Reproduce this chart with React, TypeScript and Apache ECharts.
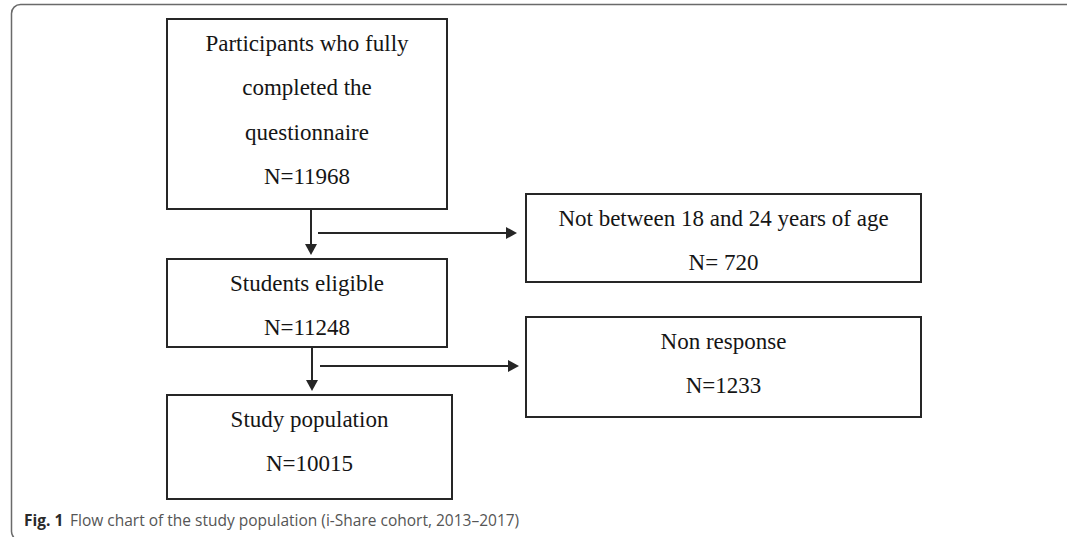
import React, { useEffect, useRef } from "react";
import * as echarts from "echarts";

// ---- data ----
const STAGE_LABELS = [
  ["Participants who fully", "completed the", "questionnaire"],
  ["Students eligible"],
  ["Study population"],
];
const STAGE_N = [11968, 11248, 10015];
const EXCLUSION_LABELS = [["Not between 18 and 24 years of age"], ["Non response"]];
const EXCLUSION_N = [720, 1233];
const EXCLUSION_N_SEP = ["N= ", "N="];
const CAPTION_BOLD = "Fig. 1";
const CAPTION_TEXT = "Flow chart of the study population (i-Share cohort, 2013–2017)";

// ---- layout ----
const STAGE_BOXES = [
  { x: 167, y: 19, w: 280, h: 190 },
  { x: 167, y: 259, w: 280, h: 88 },
  { x: 167, y: 395, w: 285, h: 104 },
];
const EXCL_BOXES = [
  { x: 526, y: 194, w: 395, h: 88 },
  { x: 526, y: 317, w: 395, h: 100 },
];
const DOWN_ARROW_X = [311, 312];
const SIDE_ARROW = [
  { y: 233, x0: 318, x1: 517 },
  { y: 366, x0: 320, x1: 519 },
];
const LINE_FIRST = 24;
const LINE_STEP = 44.6;
const STROKE = "#262626";
const TEXT_COLOR = "#151515";
const SERIF = "'Liberation Serif', 'Times New Roman', serif";

function boxElements(b: { x: number; y: number; w: number; h: number }, lines: string[]) {
  const els: any[] = [
    {
      type: "rect",
      shape: { x: b.x, y: b.y, width: b.w, height: b.h },
      style: { fill: "#fff", stroke: STROKE, lineWidth: 2 },
    },
  ];
  lines.forEach((t, i) => {
    els.push({
      type: "text",
      style: {
        text: t,
        x: b.x + b.w / 2,
        y: b.y + LINE_FIRST + i * LINE_STEP,
        textAlign: "center",
        textVerticalAlign: "middle",
        align: "center",
        verticalAlign: "middle",
        fill: TEXT_COLOR,
        font: "23px " + SERIF,
      },
    });
  });
  return els;
}

export default function App() {
  const ref = useRef<HTMLDivElement>(null);
  useEffect(() => {
    document.body.style.margin = "0";
    const chart = echarts.init(ref.current!, undefined, { renderer: "svg" });
    const elements: any[] = [];

    // outer frame
    elements.push({
      type: "rect",
      shape: { x: 11.5, y: 4.5, width: 1100, height: 536, r: 9 },
      style: { fill: "none", stroke: "#6a6a6a", lineWidth: 1.5 },
    });

    STAGE_LABELS.forEach((lbl, i) => {
      elements.push(...boxElements(STAGE_BOXES[i], [...lbl, "N=" + STAGE_N[i]]));
    });
    EXCLUSION_LABELS.forEach((lbl, i) => {
      elements.push(...boxElements(EXCL_BOXES[i], [...lbl, EXCLUSION_N_SEP[i] + EXCLUSION_N[i]]));
    });

    // down arrows
    DOWN_ARROW_X.forEach((x, i) => {
      const top = STAGE_BOXES[i].y + STAGE_BOXES[i].h;
      const tip = STAGE_BOXES[i + 1].y - 4;
      elements.push({
        type: "line",
        shape: { x1: x, y1: top, x2: x, y2: tip - 10 },
        style: { stroke: STROKE, lineWidth: 2 },
      });
      elements.push({
        type: "polygon",
        shape: { points: [[x - 6, tip - 11], [x + 6, tip - 11], [x, tip]] },
        style: { fill: STROKE },
      });
    });

    // side arrows
    SIDE_ARROW.forEach((a) => {
      elements.push({
        type: "line",
        shape: { x1: a.x0, y1: a.y, x2: a.x1 - 10, y2: a.y },
        style: { stroke: STROKE, lineWidth: 2 },
      });
      elements.push({
        type: "polygon",
        shape: { points: [[a.x1 - 11, a.y - 6], [a.x1 - 11, a.y + 6], [a.x1, a.y]] },
        style: { fill: STROKE },
      });
    });

    // caption
    elements.push({
      type: "text",
      style: {
        text: CAPTION_BOLD,
        x: 24,
        y: 520,
        textVerticalAlign: "middle",
        verticalAlign: "middle",
        fill: "#2a2a2a",
        font: "bold 15.5px 'Open Sans', sans-serif",
      },
    });
    elements.push({
      type: "text",
      style: {
        text: CAPTION_TEXT,
        x: 70,
        y: 520,
        textVerticalAlign: "middle",
        verticalAlign: "middle",
        fill: "#555",
        font: "15.5px 'Open Sans', sans-serif",
      },
    });

    chart.setOption({
      animation: false,
      backgroundColor: "#fff",
      graphic: { elements },
    });
    return () => chart.dispose();
  }, []);
  return <div ref={ref} style={{ position: "absolute", left: 0, top: 0, width: 1067, height: 537 }} />;
}
